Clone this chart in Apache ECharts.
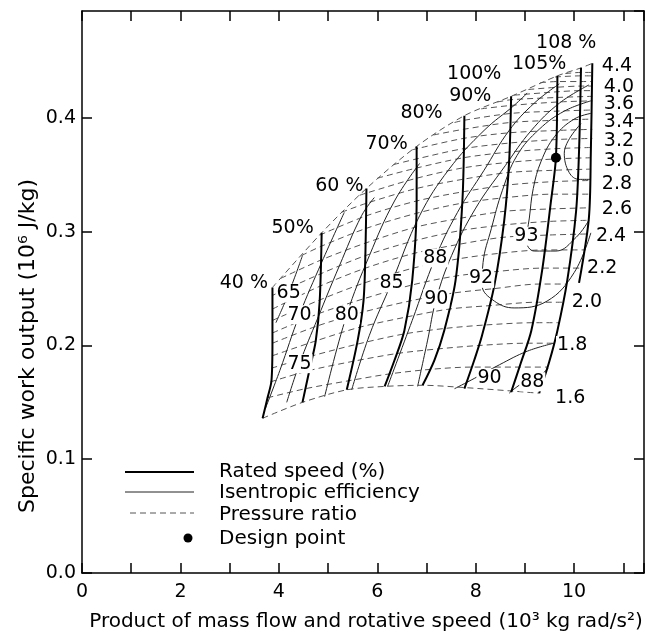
<!DOCTYPE html>
<html>
<head>
<meta charset="utf-8">
<script src="https://cdn.jsdelivr.net/npm/echarts@6/dist/echarts.min.js"></script>
<style>
html, body { margin: 0; padding: 0; background: #fff; }
#chart { width: 647px; height: 633px; }
</style>
</head>
<body>
<div id="chart"></div>
<script>
// x: product of mass flow and rotative speed (10^3 kg rad/s^2), y: specific work (10^6 J/kg)

// rated speed lines, top (choke end) to bottom
const speedNames = ['40 %', '50%', '60 %', '70%', '80%', '90%', '100%', '105%', '108 %'];
const speedLines = [
  [[3.87,0.251],[3.87,0.204],[3.85,0.169],[3.77,0.154],[3.67,0.136]],
  [[4.87,0.299],[4.83,0.239],[4.75,0.204],[4.62,0.178],[4.48,0.150]],
  [[5.78,0.338],[5.76,0.283],[5.72,0.239],[5.60,0.204],[5.38,0.161]],
  [[6.80,0.375],[6.80,0.327],[6.71,0.257],[6.55,0.213],[6.35,0.187],[6.15,0.164]],
  [[7.77,0.402],[7.73,0.327],[7.59,0.257],[7.36,0.213],[7.16,0.187],[6.92,0.165]],
  [[8.72,0.419],[8.68,0.362],[8.58,0.310],[8.38,0.253],[8.13,0.209],[7.97,0.187],[7.77,0.162]],
  [[9.66,0.437],[9.63,0.365],[9.53,0.327],[9.35,0.266],[9.13,0.213],[8.92,0.185],[8.72,0.159]],
  [[10.14,0.444],[10.10,0.371],[10.04,0.318],[9.86,0.257],[9.66,0.213],[9.49,0.185],[9.29,0.158]],
  [[10.37,0.448],[10.34,0.371],[10.30,0.312],[10.10,0.255]]
];
const speedLabelPos = [[3.29,0.255],[4.28,0.303],[5.23,0.340],[6.19,0.377],[6.90,0.404],[7.89,0.419],[7.97,0.439],[9.29,0.447],[9.84,0.466]];

// upper boundary joining the tops of the speed lines
const envelope = [[3.87,0.251],[4.87,0.299],[5.78,0.338],[6.80,0.375],[7.77,0.402],[8.72,0.419],[9.66,0.437],[10.14,0.444],[10.37,0.448]];

// constant pressure ratio lines, 4.2 down to 1.6
const prLines = [
  [[9.82,0.439],[10.14,0.440],[10.37,0.440]],
  [[9.61,0.436],[10.14,0.437],[10.37,0.437]],
  [[9.31,0.431],[9.66,0.432],[10.14,0.432],[10.37,0.432]],
  [[9.07,0.425],[9.66,0.427],[10.14,0.428],[10.37,0.428]],
  [[8.78,0.420],[9.66,0.423],[10.14,0.424],[10.37,0.424]],
  [[8.44,0.414],[8.72,0.416],[9.66,0.418],[10.37,0.419]],
  [[8.11,0.408],[8.72,0.411],[9.66,0.414],[10.37,0.415]],
  [[7.57,0.396],[7.77,0.398],[8.72,0.404],[9.66,0.406],[10.37,0.407]],
  [[7.14,0.385],[7.75,0.390],[8.70,0.396],[9.66,0.398],[10.37,0.399]],
  [[6.71,0.372],[7.75,0.382],[8.70,0.387],[9.66,0.389],[10.37,0.390]],
  [[6.33,0.359],[6.80,0.364],[7.75,0.373],[8.70,0.378],[9.63,0.381],[10.37,0.382]],
  [[6.00,0.347],[6.80,0.356],[7.75,0.365],[8.68,0.370],[9.63,0.373],[10.34,0.374]],
  [[5.64,0.332],[5.78,0.334],[6.80,0.347],[7.73,0.356],[8.68,0.361],[9.63,0.364],[10.34,0.365]],
  [[5.27,0.317],[5.78,0.325],[6.80,0.338],[7.73,0.346],[8.66,0.352],[9.59,0.354],[10.32,0.355]],
  [[4.83,0.297],[5.78,0.314],[6.80,0.327],[7.73,0.335],[8.64,0.341],[9.57,0.344],[10.32,0.345]],
  [[4.46,0.279],[4.85,0.287],[5.78,0.303],[6.78,0.316],[7.71,0.325],[8.62,0.330],[9.55,0.333],[10.32,0.333]],
  [[4.04,0.259],[4.85,0.275],[5.76,0.290],[6.78,0.304],[7.71,0.312],[8.60,0.318],[9.51,0.320],[10.30,0.321]],
  [[3.87,0.244],[4.85,0.263],[5.76,0.279],[6.75,0.292],[7.69,0.301],[8.58,0.306],[9.47,0.309],[10.28,0.310]],
  [[3.87,0.232],[4.83,0.252],[5.76,0.268],[6.75,0.281],[7.67,0.289],[8.54,0.295],[9.43,0.297],[10.26,0.298]],
  [[3.87,0.222],[4.83,0.240],[5.74,0.255],[6.73,0.268],[7.63,0.276],[8.48,0.281],[9.39,0.284],[10.22,0.284]],
  [[3.87,0.211],[4.81,0.228],[5.72,0.241],[6.69,0.253],[7.59,0.261],[8.42,0.265],[9.35,0.268],[10.16,0.268]],
  [[3.87,0.202],[4.77,0.217],[5.68,0.229],[6.65,0.239],[7.53,0.246],[8.38,0.250],[9.29,0.254],[9.84,0.254]],
  [[3.87,0.191],[4.75,0.204],[5.64,0.216],[6.59,0.225],[7.46,0.232],[8.28,0.235],[9.23,0.238],[9.78,0.238]],
  [[3.85,0.180],[4.69,0.191],[5.58,0.201],[6.53,0.210],[7.38,0.215],[8.19,0.218],[9.17,0.220],[9.70,0.220]],
  [[3.83,0.168],[4.62,0.178],[5.50,0.186],[6.41,0.193],[7.24,0.197],[8.07,0.200],[9.03,0.202],[9.59,0.202]],
  [[3.77,0.154],[4.54,0.162],[5.42,0.169],[6.25,0.175],[7.08,0.179],[7.91,0.181],[8.88,0.181],[9.45,0.181]],
  [[3.67,0.136],[4.48,0.150],[5.38,0.161],[6.15,0.164],[6.92,0.165],[7.77,0.163],[8.72,0.160],[9.29,0.158]]
];
const prNames = ['4.4','4.0','3.6','3.4','3.2','3.0','2.8','2.6','2.4','2.2','2.0','1.8','1.6'];
const prLabelPos = [[10.87,0.446],[10.91,0.427],[10.91,0.412],[10.91,0.396],[10.91,0.380],[10.91,0.362],[10.87,0.342],[10.87,0.320],[10.75,0.296],[10.57,0.268],[10.26,0.238],[9.96,0.200],[9.92,0.154]];

// isentropic efficiency contours (%)
const effLines = [
  [[3.94,0.220],[4.20,0.246],[4.48,0.279]],
  [[3.73,0.145],[4.02,0.178],[4.42,0.227],[4.87,0.273],[5.33,0.317]],
  [[4.16,0.150],[4.42,0.184],[4.79,0.224],[5.23,0.270],[5.68,0.314],[5.94,0.330]],
  [[4.93,0.155],[5.38,0.227],[5.84,0.279],[6.35,0.327],[6.86,0.360]],
  [[5.48,0.161],[5.84,0.209],[6.29,0.255],[6.86,0.314],[7.46,0.355],[8.17,0.389],[8.78,0.411],[9.05,0.422]],
  [[6.21,0.164],[6.71,0.222],[7.18,0.277],[7.63,0.317],[8.17,0.354],[8.68,0.389],[9.19,0.413],[9.70,0.430]],
  [[6.82,0.164],[7.02,0.204],[7.20,0.241],[7.51,0.279],[7.99,0.320],[8.60,0.358],[9.13,0.389],[9.70,0.413],[10.30,0.429]],
  [[10.34,0.299],[10.00,0.264],[9.45,0.239],[8.78,0.233],[8.38,0.239],[8.13,0.253],[8.15,0.273],[8.32,0.303],[8.54,0.336],[8.84,0.367],[9.29,0.390],[9.80,0.406],[10.34,0.415]],
  [[10.30,0.310],[10.04,0.295],[9.63,0.283],[9.19,0.283],[9.03,0.292],[9.09,0.312],[9.17,0.338],[9.33,0.362],[9.61,0.384],[10.00,0.399],[10.34,0.404]],
  [[10.14,0.395],[9.80,0.369],[9.90,0.352],[10.10,0.346],[10.34,0.346]],
  [[7.57,0.162],[7.97,0.171],[8.48,0.183],[9.05,0.195],[9.59,0.202]],
  [[8.68,0.158],[8.92,0.166],[9.29,0.173],[9.47,0.180]]
];
const effNames = ['65','70','75','80','85','88','90','92','93','90','88'];
const effLabelPos = [[4.20,0.246],[4.42,0.227],[4.42,0.184],[5.38,0.227],[6.29,0.255],[7.18,0.277],[7.20,0.241],[8.11,0.259],[9.03,0.296],[8.28,0.171],[9.15,0.168]];

const designPoint = [[9.63,0.365]];

const chart = echarts.init(document.getElementById('chart'));
const font = 'DejaVu Sans';
const series = [];

prLines.concat([envelope]).forEach(function (d) {
  series.push({ type: 'line', data: d, smooth: 0.3, symbol: 'none', silent: true, z: 2,
    lineStyle: { color: '#555', width: 1, type: [6, 4] } });
});
effLines.forEach(function (d) {
  series.push({ type: 'line', data: d, smooth: 0.4, symbol: 'none', silent: true, z: 3,
    lineStyle: { color: '#222', width: 1 } });
});
speedLines.forEach(function (d) {
  series.push({ type: 'line', data: d, smooth: 0.3, symbol: 'none', silent: true, z: 4,
    lineStyle: { color: '#000', width: 2 } });
});
series.push({ type: 'scatter', data: designPoint, symbolSize: 10, z: 6,
  itemStyle: { color: '#000', opacity: 1 } });

function textSeries(pos, names, bg) {
  return { type: 'scatter', symbolSize: 0, z: 5, silent: true,
    itemStyle: { opacity: 1 },
    data: pos.map(function (p, i) { return [p[0], p[1], names[i]]; }),
    label: { show: true, position: 'inside', formatter: function (p) { return p.value[2]; },
      color: '#000', fontFamily: font, fontSize: 19, backgroundColor: bg, padding: [0, 1] } };
}
series.push(textSeries(speedLabelPos, speedNames, 'transparent'));
series.push(textSeries(prLabelPos, prNames, '#fff'));
series.push(textSeries(effLabelPos, effNames, '#fff'));

const axisCommon = {
  axisLine: { show: true, onZero: false, lineStyle: { color: '#000', width: 1.5 } },
  axisTick: { show: true, inside: true, length: 10, lineStyle: { color: '#000', width: 1.5 } },
  splitLine: { show: false }
};

chart.setOption({
  animation: false,
  grid: { left: 82, right: 2, top: 11, bottom: 60 },
  xAxis: [
    Object.assign({ type: 'value', min: 0, max: 11.42, interval: 1, position: 'bottom',
      axisLabel: { color: '#000', fontFamily: font, fontSize: 19, margin: 10,
        formatter: function (v) { return (v % 2 === 0 && v <= 10) ? String(v) : ''; } } }, axisCommon),
    Object.assign({ type: 'value', min: 0, max: 11.42, interval: 1, position: 'top',
      axisLabel: { show: false } }, axisCommon)
  ],
  yAxis: [
    Object.assign({ type: 'value', min: 0, max: 0.494, interval: 0.1, position: 'left',
      axisLabel: { color: '#000', fontFamily: font, fontSize: 19, margin: 6, showMaxLabel: false,
        formatter: function (v) { return v.toFixed(1); } } }, axisCommon),
    Object.assign({ type: 'value', min: 0, max: 0.494, interval: 0.1, position: 'right',
      axisLabel: { show: false } }, axisCommon)
  ],
  graphic: [
    { type: 'text', x: 366, y: 622, style: { text: 'Product of mass flow and rotative speed (10³ kg rad/s²)',
      font: '20px "DejaVu Sans"', fill: '#000', textAlign: 'center', textVerticalAlign: 'middle' } },
    { type: 'text', x: 28, y: 346, rotation: Math.PI / 2, style: { text: 'Specific work output (10⁶ J/kg)',
      font: '22px "DejaVu Sans"', fill: '#000', textAlign: 'center', textVerticalAlign: 'middle' } },
    { type: 'line', shape: { x1: 125, y1: 472, x2: 194, y2: 472 }, style: { stroke: '#000', lineWidth: 2 } },
    { type: 'line', shape: { x1: 125, y1: 492, x2: 194, y2: 492 }, style: { stroke: '#222', lineWidth: 1 } },
    { type: 'line', shape: { x1: 130, y1: 513, x2: 194, y2: 513 }, style: { stroke: '#555', lineWidth: 1, lineDash: [6, 4] } },
    { type: 'circle', shape: { cx: 188, cy: 538, r: 4.5 }, style: { fill: '#000' } },
    { type: 'text', x: 219, y: 472, style: { text: 'Rated speed (%)', font: '20px "DejaVu Sans"', fill: '#000', textVerticalAlign: 'middle' } },
    { type: 'text', x: 219, y: 493, style: { text: 'Isentropic efficiency', font: '20px "DejaVu Sans"', fill: '#000', textVerticalAlign: 'middle' } },
    { type: 'text', x: 219, y: 515, style: { text: 'Pressure ratio', font: '20px "DejaVu Sans"', fill: '#000', textVerticalAlign: 'middle' } },
    { type: 'text', x: 219, y: 539, style: { text: 'Design point', font: '20px "DejaVu Sans"', fill: '#000', textVerticalAlign: 'middle' } }
  ],
  series: series
});
</script>
</body>
</html>
